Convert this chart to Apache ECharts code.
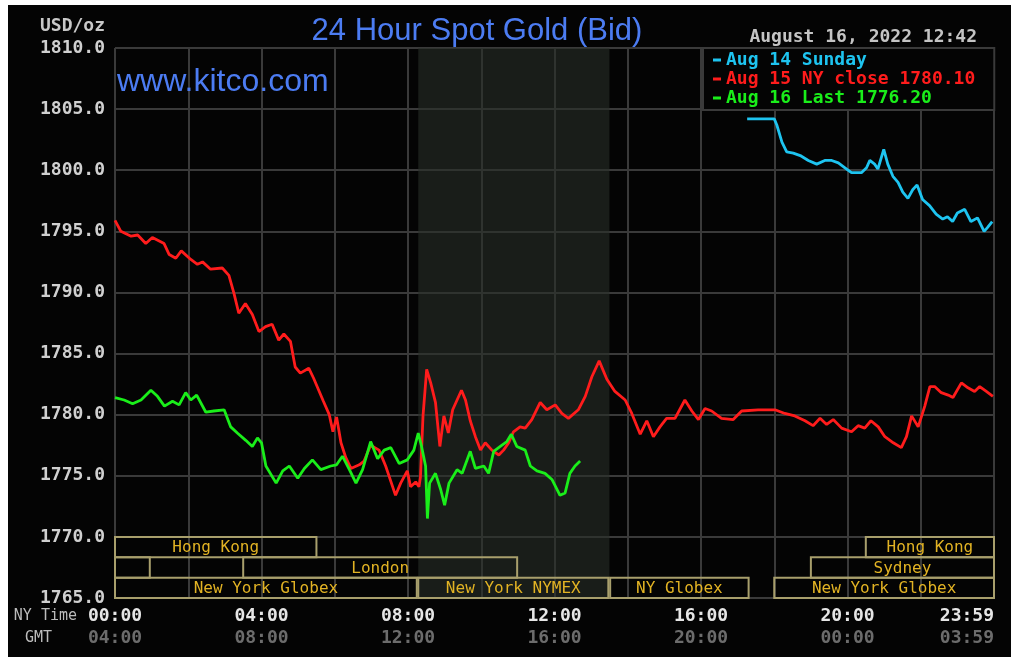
<!DOCTYPE html>
<html><head><meta charset="utf-8">
<script src="https://cdn.jsdelivr.net/npm/echarts@6/dist/echarts.min.js"></script>
<style>
html,body{margin:0;padding:0;background:#fff;width:1024px;height:668px;overflow:hidden}
#panel{position:absolute;left:8px;top:5px;width:1003px;height:652px;background:#040404}
#chart{position:absolute;left:0;top:0;width:1024px;height:668px}
</style></head><body>
<div id="panel"></div><div id="chart"></div>
<script>
// ---- data (NY time in hours, price USD/oz) ----
const sundayHours = [17.26,18.00,18.07,18.21,18.34,18.52,18.71,18.93,19.16,19.38,19.57,19.75,19.93,20.11,20.38,20.52,20.61,20.74,20.83,20.99,21.10,21.24,21.38,21.51,21.65,21.78,21.90,22.05,22.24,22.42,22.60,22.73,22.87,23.00,23.20,23.37,23.55,23.73,23.82,23.95];
const sundayPrices = [1804.2,1804.2,1803.7,1802.3,1801.5,1801.4,1801.2,1800.8,1800.5,1800.8,1800.8,1800.6,1800.2,1799.8,1799.8,1800.2,1800.8,1800.5,1800.1,1801.7,1800.5,1799.5,1799.0,1798.2,1797.7,1798.4,1798.8,1797.6,1797.1,1796.4,1796.0,1796.2,1795.8,1796.5,1796.8,1795.8,1796.1,1795.0,1795.3,1795.8];

const mondayHours = [0.00,0.16,0.44,0.62,0.84,1.02,1.34,1.48,1.66,1.81,2.07,2.25,2.39,2.61,2.93,3.11,3.25,3.38,3.56,3.75,3.93,4.11,4.29,4.47,4.61,4.79,4.92,5.06,5.29,5.42,5.69,5.85,5.95,6.05,6.17,6.30,6.44,6.67,6.80,6.98,7.21,7.39,7.66,7.80,7.98,8.07,8.21,8.30,8.34,8.41,8.51,8.62,8.75,8.87,8.98,9.10,9.22,9.34,9.46,9.57,9.70,9.84,9.98,10.11,10.29,10.48,10.61,10.75,10.88,11.06,11.20,11.38,11.61,11.79,12.02,12.20,12.38,12.65,12.84,13.02,13.22,13.43,13.65,13.93,14.11,14.34,14.52,14.70,14.88,15.06,15.29,15.56,15.75,15.93,16.11,16.29,16.56,16.88,17.11,17.56,18.02,18.29,18.56,18.84,19.06,19.25,19.43,19.61,19.84,20.11,20.29,20.47,20.64,20.84,21.02,21.25,21.47,21.61,21.75,21.93,22.11,22.25,22.38,22.56,22.75,22.88,23.11,23.29,23.47,23.61,23.79,23.97];
const mondayPrices = [1795.9,1795.0,1794.6,1794.7,1794.0,1794.5,1794.0,1793.1,1792.8,1793.4,1792.7,1792.3,1792.5,1791.9,1792.0,1791.4,1789.9,1788.3,1789.1,1788.2,1786.8,1787.2,1787.4,1786.1,1786.6,1786.0,1783.9,1783.4,1783.8,1783.0,1781.1,1780.0,1778.6,1779.8,1777.7,1776.5,1775.6,1775.9,1776.2,1777.5,1777.1,1775.8,1773.4,1774.4,1775.4,1774.1,1774.5,1774.1,1774.9,1779.9,1783.7,1782.6,1781.0,1777.4,1779.9,1778.5,1780.4,1781.2,1782.0,1781.2,1779.5,1778.2,1777.1,1777.7,1777.1,1776.7,1777.1,1777.7,1778.6,1779.0,1778.9,1779.6,1781.0,1780.4,1780.8,1780.1,1779.7,1780.4,1781.5,1783.1,1784.4,1782.9,1781.9,1781.2,1780.1,1778.4,1779.5,1778.2,1779.0,1779.7,1779.7,1781.2,1780.3,1779.6,1780.5,1780.3,1779.7,1779.6,1780.3,1780.4,1780.4,1780.1,1779.9,1779.5,1779.1,1779.7,1779.2,1779.6,1778.9,1778.6,1779.1,1778.9,1779.5,1779.0,1778.2,1777.7,1777.3,1778.2,1779.9,1779.0,1780.7,1782.3,1782.3,1781.8,1781.6,1781.4,1782.6,1782.2,1781.9,1782.3,1781.9,1781.5];

const tuesdayHours = [0.00,0.25,0.48,0.71,0.98,1.16,1.35,1.57,1.75,1.93,2.07,2.23,2.48,2.70,2.98,3.16,3.34,3.57,3.75,3.89,4.00,4.12,4.40,4.58,4.76,4.99,5.17,5.39,5.62,5.89,6.05,6.21,6.40,6.58,6.76,6.98,7.17,7.35,7.53,7.76,7.98,8.16,8.28,8.37,8.48,8.53,8.59,8.75,8.89,9.00,9.12,9.34,9.48,9.70,9.84,10.07,10.20,10.34,10.52,10.70,10.82,10.97,11.20,11.34,11.52,11.74,11.93,12.15,12.29,12.42,12.56,12.70];
const tuesdayPrices = [1781.4,1781.2,1780.9,1781.2,1782.0,1781.5,1780.7,1781.1,1780.8,1781.8,1781.2,1781.6,1780.2,1780.3,1780.4,1779.0,1778.5,1777.9,1777.4,1778.1,1777.7,1775.8,1774.4,1775.4,1775.8,1774.8,1775.6,1776.3,1775.5,1775.8,1775.9,1776.6,1775.5,1774.4,1775.5,1777.8,1776.4,1777.1,1777.3,1776.0,1776.3,1777.1,1778.5,1777.4,1775.8,1771.5,1774.4,1775.2,1773.9,1772.6,1774.4,1775.5,1775.2,1777.0,1775.6,1775.8,1775.2,1777.0,1777.4,1777.8,1778.4,1777.4,1777.1,1775.8,1775.4,1775.2,1774.7,1773.4,1773.6,1775.2,1775.8,1776.2];

const seriesNames = ['Aug 14 Sunday','Aug 15 NY close 1780.10','Aug 16 Last 1776.20'];

const nyTickLabels  = ['00:00','04:00','08:00','12:00','16:00','20:00','23:59'];
const gmtTickLabels = ['04:00','08:00','12:00','16:00','20:00','00:00','03:59'];

const sessionNames = ['Hong Kong','Sydney','London','New York Globex','New York NYMEX','NY Globex','New York Globex','Sydney','Hong Kong'];
const sessionStart = [0, 0, 3.5, 0, 8.28, 13.52, 18.0, 19.0, 20.5];
const sessionEnd   = [5.5, 0.95, 10.98, 8.24, 13.47, 17.3, 24, 24, 24];
const sessionRow   = [0, 1, 1, 2, 2, 2, 2, 1, 0];

const nymexStart = 8.28, nymexEnd = 13.5;

// ---- build ----
const zip = (a, b) => a.map((h, i) => [h, b[i]]);
const MONO = "'DejaVu Sans Mono', monospace";
const GRID = '#3a3a3a';
const colors = ['#1ec4f0', '#ff1c1c', '#1aee1a'];

const chart = echarts.init(document.getElementById('chart'), null, {renderer: 'canvas'});

const lineSeries = (name, data, color) => ({
  name, type: 'line', data, showSymbol: false, symbol: 'none', z: 3,
  lineStyle: {color, width: 2.8}, itemStyle: {color}, animation: false
});

const option = {
  backgroundColor: 'transparent',
  animation: false,
  grid: {left: 115, right: 30, top: 48, bottom: 70},
  graphic: [
    {type: 'text', style: {text: '24 Hour Spot Gold (Bid)', x: 477, y: 31, align: 'center', verticalAlign: 'middle', fill: '#4c7cf2', font: "31px 'Liberation Sans', Arial, sans-serif"}},
    {type: 'text', z: 10, style: {text: 'www.kitco.com', x: 117, y: 82, align: 'left', verticalAlign: 'middle', fill: '#4c7cf2', font: "32px 'Liberation Sans', Arial, sans-serif"}},
    {type: 'text', style: {text: 'August 16, 2022 12:42', x: 977, y: 37, align: 'right', verticalAlign: 'middle', fill: '#c4c4c4', font: "bold 18px 'DejaVu Sans Mono', monospace"}},
    {type: 'text', style: {text: 'NY Time', x: 77, y: 616, align: 'right', verticalAlign: 'middle', fill: '#bcbcbc', font: "15px 'DejaVu Sans Mono', monospace"}},
    {type: 'text', style: {text: 'GMT', x: 52, y: 638, align: 'right', verticalAlign: 'middle', fill: '#bcbcbc', font: "15px 'DejaVu Sans Mono', monospace"}}
  ],
  legend: {
    orient: 'vertical', left: 703, top: 48,
    icon: 'rect', itemWidth: 8, itemHeight: 3, itemGap: 1,
    padding: [3, 19, 3, 10],
    backgroundColor: '#040404', borderColor: GRID, borderWidth: 2,
    selectedMode: false,
    textStyle: {fontFamily: MONO, fontWeight: 'bold', fontSize: 18},
    data: seriesNames.map((n, i) => ({name: n, textStyle: {color: colors[i]}}))
  },
  xAxis: {
    type: 'value', min: 0, max: 24, interval: 2,
    axisLine: {show: false}, axisTick: {show: false},
    splitLine: {show: true, lineStyle: {color: GRID, width: 2}},
    axisLabel: {
      margin: 7, showMinLabel: true, showMaxLabel: true, alignMaxLabel: 'right',
      formatter: v => {
        if (v % 4 !== 0) return '';
        const i = v / 4;
        return '{ny|' + nyTickLabels[i] + '}\n{gmt|' + gmtTickLabels[i] + '}';
      },
      rich: {
        ny: {color: '#e6e6e6', fontFamily: MONO, fontWeight: 'bold', fontSize: 18, lineHeight: 22},
        gmt: {color: '#6c6c6c', fontFamily: MONO, fontWeight: 'bold', fontSize: 18, lineHeight: 22}
      }
    }
  },
  yAxis: {
    type: 'value', min: 1765, max: 1810, interval: 5,
    axisLine: {show: false}, axisTick: {show: false},
    splitLine: {show: true, lineStyle: {color: GRID, width: 2}},
    axisLabel: {margin: 10, color: '#d0d0d0', fontFamily: MONO, fontWeight: 'bold', fontSize: 18, formatter: v => v.toFixed(1)},
    name: 'USD/oz', nameLocation: 'end', nameGap: 22,
    nameTextStyle: {align: 'right', verticalAlign: 'middle', padding: [0, 10, 0, 0], color: '#c8c8c8', fontFamily: MONO, fontWeight: 'bold', fontSize: 18}
  },
  series: [
    {
      name: 'nymex', type: 'line', data: [], z: 1, silent: true,
      markArea: {silent: true, itemStyle: {color: 'rgba(40,46,40,0.6)'}, data: [[{xAxis: nymexStart}, {xAxis: nymexEnd}]]}
    },
    lineSeries(seriesNames[0], zip(sundayHours, sundayPrices), colors[0]),
    lineSeries(seriesNames[1], zip(mondayHours, mondayPrices), colors[1]),
    lineSeries(seriesNames[2], zip(tuesdayHours, tuesdayPrices), colors[2]),
    {
      name: 'sessions', type: 'custom', z: 4, silent: true,
      encode: {x: [0, 1], y: 2},
      data: sessionNames.map((n, i) => [sessionStart[i], sessionEnd[i], sessionRow[i]]),
      renderItem: (params, api) => {
        const s = api.value(0), e = api.value(1), r = api.value(2);
        const topV = 1770 - r * 5 / 3, botV = topV - 5 / 3;
        const p1 = api.coord([s, topV]), p2 = api.coord([e, botV]);
        const w = p2[0] - p1[0], h = p2[1] - p1[1];
        const children = [{
          type: 'rect', shape: {x: p1[0], y: p1[1], width: w, height: h},
          style: {fill: 'none', stroke: '#a89f6c', lineWidth: 2}
        }];
        if (w > 60) children.push({
          type: 'text',
          style: {text: sessionNames[params.dataIndex], x: p1[0] + w / 2, y: p1[1] + h / 2 + 1,
            align: 'center', verticalAlign: 'middle', fill: '#e2b324', font: "16px 'DejaVu Sans Mono', monospace"}
        });
        return {type: 'group', children};
      }
    }
  ]
};
chart.setOption(option);
</script>
</body></html>
